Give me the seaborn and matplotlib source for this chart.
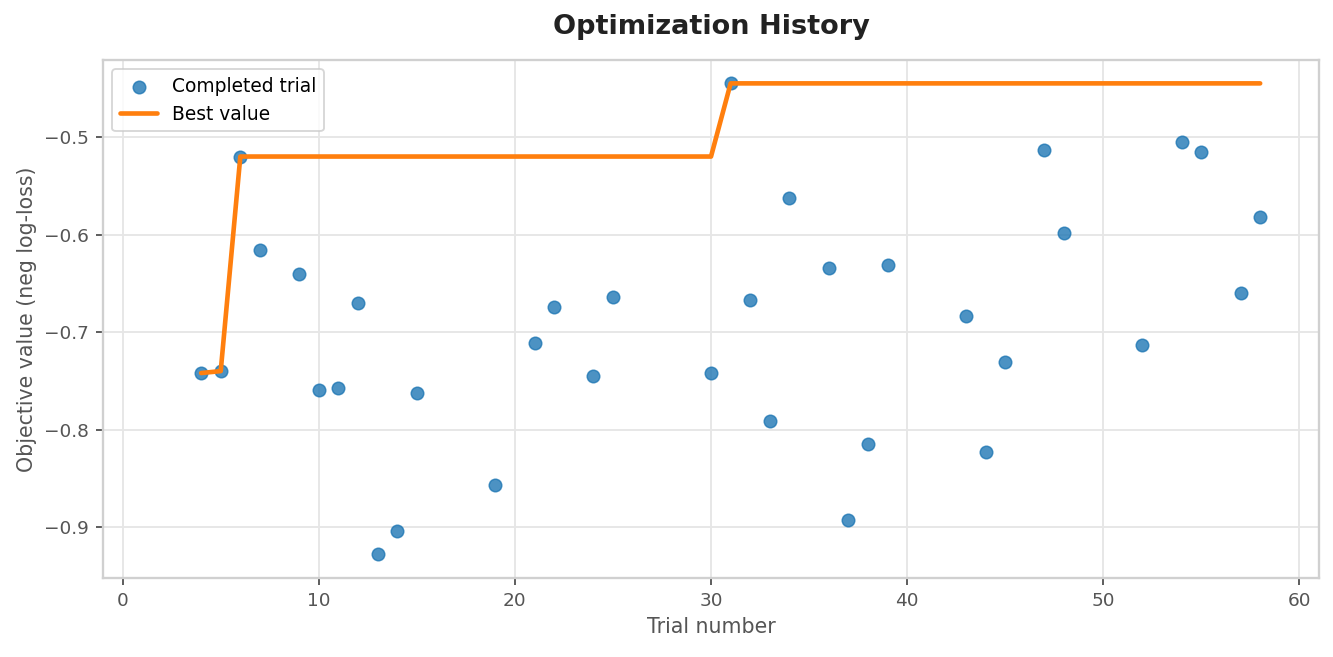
import numpy as np
import pandas as pd
import matplotlib
matplotlib.use("Agg")
import matplotlib.pyplot as plt
import seaborn as sns

# Completed trials
trial_number = [4, 5, 6, 7, 9, 10, 11, 12, 13, 14, 15, 19, 21, 22, 24, 25,
                30, 31, 32, 33, 34, 36, 37, 38, 39, 43, 44, 45, 47, 48,
                52, 54, 55, 57, 58]
objective_value = [-0.742, -0.740, -0.520, -0.616, -0.640, -0.759, -0.757,
                   -0.670, -0.928, -0.904, -0.762, -0.857, -0.711, -0.674,
                   -0.745, -0.664, -0.742, -0.445, -0.667, -0.791, -0.563,
                   -0.634, -0.893, -0.815, -0.631, -0.684, -0.823, -0.731,
                   -0.513, -0.598, -0.713, -0.505, -0.515, -0.660, -0.582]

df = pd.DataFrame({"trial": trial_number, "value": objective_value})
df["best"] = df["value"].cummax()

sns.set_theme(style="whitegrid")
plt.rcParams.update({
    "axes.edgecolor": "#d0d0d0",
    "grid.color": "#e6e6e6",
    "xtick.bottom": True,
    "ytick.left": True,
    "xtick.color": "#555555",
    "ytick.color": "#555555",
    "axes.labelcolor": "#555555",
})
plt.rcParams["font.family"] = ["DejaVu Sans"]

fig = plt.figure(figsize=(10, 4.93), dpi=133.3)
ax = fig.add_axes([0.0773, 0.1202, 0.9122, 0.7885])

sns.scatterplot(data=df, x="trial", y="value", ax=ax, color="#1f77b4",
                alpha=0.8, s=46, edgecolor="#1f77b4", linewidth=0.8,
                label="Completed trial")
sns.lineplot(data=df, x="trial", y="best", ax=ax, color="#ff7f0e",
             linewidth=2.5, label="Best value")

ax.set_xlim(-1, 61)
ax.set_title("Optimization History", fontsize=14.7, fontweight="bold",
             color="#222222", pad=14)
ax.set_xlabel("Trial number", fontsize=11.1)
ax.set_ylabel("Objective value (neg log-loss)", fontsize=11.1)
ax.tick_params(labelsize=10, length=4, width=1, color="#555555")
leg = ax.legend(loc="upper left", fontsize=10.1, frameon=True)
for t in leg.get_texts():
    t.set_color("black")

fig.savefig("out.png", dpi=133.3)
